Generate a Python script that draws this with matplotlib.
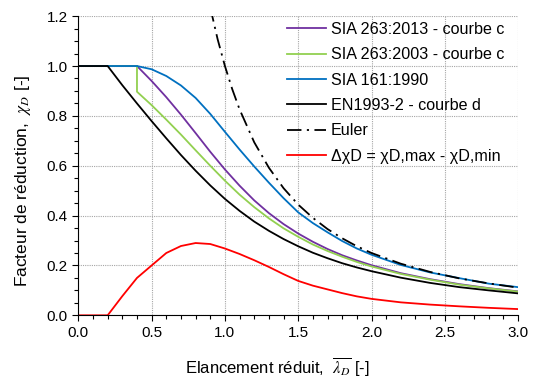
import matplotlib
matplotlib.use("Agg")
import matplotlib.pyplot as plt
from matplotlib.ticker import MultipleLocator

# Slenderness values (lambda_D bar)
lam = [0.0, 0.1, 0.2, 0.3, 0.4, 0.5, 0.6, 0.7, 0.8, 0.9, 1.0, 1.1, 1.2, 1.3, 1.4,
       1.5, 1.6, 1.7, 1.8, 1.9, 2.0, 2.2, 2.4, 2.6, 2.8, 3.0]

# SIA 263:2013 - courbe c
chi_sia2013 = [1.0, 1.0, 1.0, 1.0, 1.0, 0.940, 0.875, 0.805, 0.731, 0.656, 0.585, 0.520,
               0.461, 0.410, 0.366, 0.328, 0.295, 0.266, 0.241, 0.220, 0.201, 0.169,
               0.145, 0.125, 0.109, 0.096]

# SIA 263:2003 - courbe c (drop at 0.4)
lam_sia2003 = [0.0, 0.1, 0.2, 0.3, 0.4, 0.4, 0.5, 0.6, 0.7, 0.8, 0.9, 1.0, 1.1, 1.2, 1.3,
               1.4, 1.5, 1.6, 1.7, 1.8, 1.9, 2.0, 2.2, 2.4, 2.6, 2.8, 3.0]
chi_sia2003 = [1.0, 1.0, 1.0, 1.0, 1.0, 0.897, 0.843, 0.785, 0.725, 0.662, 0.600, 0.540,
               0.484, 0.434, 0.389, 0.349, 0.315, 0.284, 0.258, 0.235, 0.214, 0.196,
               0.166, 0.143, 0.123, 0.108, 0.095]

# SIA 161:1990
chi_sia1990 = [1.0, 1.0, 1.0, 1.0, 1.0, 0.987, 0.960, 0.922, 0.872, 0.808, 0.736, 0.665,
               0.597, 0.532, 0.470, 0.413, 0.370, 0.333, 0.298, 0.268, 0.243, 0.202,
               0.172, 0.149, 0.127, 0.113]

# EN1993-2 - courbe d
chi_en = [1.0, 1.0, 1.0, 0.923, 0.850, 0.779, 0.710, 0.643, 0.580, 0.521, 0.467, 0.419,
          0.376, 0.339, 0.306, 0.277, 0.251, 0.229, 0.209, 0.192, 0.177, 0.151,
          0.130, 0.113, 0.100, 0.088]

# Euler
lam_euler = [0.9, 0.95, 1.0, 1.05, 1.1, 1.2, 1.3, 1.4, 1.5, 1.6, 1.7, 1.8, 1.9, 2.0,
             2.2, 2.4, 2.6, 2.8, 3.0]
chi_euler = [1.235, 1.108, 1.0, 0.907, 0.826, 0.694, 0.592, 0.510, 0.444, 0.391, 0.346,
             0.309, 0.277, 0.250, 0.207, 0.174, 0.148, 0.128, 0.111]

# Delta chi = max - min
d_chi = [0.0, 0.0, 0.0, 0.077, 0.150, 0.200, 0.250, 0.278, 0.290, 0.286, 0.268, 0.246,
         0.221, 0.194, 0.165, 0.138, 0.119, 0.104, 0.089, 0.076, 0.066, 0.052,
         0.043, 0.036, 0.030, 0.025]

plt.rcParams['font.family'] = ['Liberation Sans', 'DejaVu Sans']
plt.rcParams['mathtext.fontset'] = 'stix'

fig = plt.figure(figsize=(5.33, 3.85), dpi=100)
ax = fig.add_axes([0.147, 0.181, 0.825, 0.777])

lw = 1.3
ax.plot(lam, chi_sia2013, color='#7030A0', lw=lw, label='SIA 263:2013 - courbe c')
ax.plot(lam_sia2003, chi_sia2003, color='#92D050', lw=lw, label='SIA 263:2003 - courbe c')
ax.plot(lam, chi_sia1990, color='#0070C0', lw=lw, label='SIA 161:1990')
ax.plot(lam, chi_en, color='black', lw=lw, label='EN1993-2 - courbe d')
ax.plot(lam_euler, chi_euler, color='black', lw=lw, dashes=(8, 3, 1.2, 3), label='Euler')
ax.plot(lam, d_chi, color='#FF0000', lw=lw, label='ΔχD = χD,max - χD,min')

ax.set_xlim(0, 3.0)
ax.set_ylim(0, 1.2)
ax.xaxis.set_major_locator(MultipleLocator(0.5))
ax.xaxis.set_minor_locator(MultipleLocator(0.1))
ax.yaxis.set_major_locator(MultipleLocator(0.2))
ax.yaxis.set_minor_locator(MultipleLocator(0.05))
ax.xaxis.set_major_formatter(plt.FormatStrFormatter('%.1f'))
ax.yaxis.set_major_formatter(plt.FormatStrFormatter('%.1f'))
ax.tick_params(which='major', direction='out', length=4, width=0.8, labelsize=11)
ax.tick_params(which='minor', direction='out', length=3, width=0.8)
ax.grid(True, which='major', color='#a6a6a6', linestyle=(0, (1, 1)), linewidth=0.8)

for s in ['top', 'right']:
    ax.spines[s].set_visible(False)

ax.set_xlabel(r'Elancement réduit,  $\overline{\lambda_D}$ [-]', fontsize=12)
ax.set_ylabel(r'Facteur de réduction,  $\chi_D$ [-]', fontsize=12.5)
ax.xaxis.set_label_coords(0.452, -0.135)
ax.yaxis.set_label_coords(-0.103, 0.45)

ax.legend(loc='upper left', bbox_to_anchor=(287 / 533, 1 - 22 / 385),
          bbox_transform=fig.transFigure, frameon=False, fontsize=11.6,
          handlelength=2.4, handletextpad=0.32, labelspacing=0.64,
          borderpad=0, borderaxespad=0)

fig.savefig('out.png', dpi=100)
